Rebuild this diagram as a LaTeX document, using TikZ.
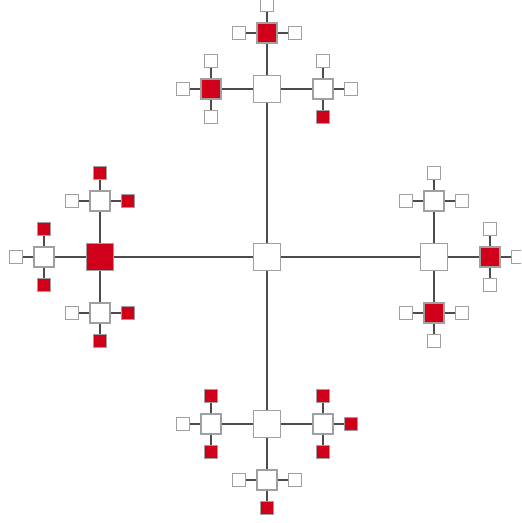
\documentclass[tikz,border=0pt]{standalone}
\definecolor{boxred}{RGB}{208,0,27}
\definecolor{boxedge}{RGB}{160,160,160}
\definecolor{wirecol}{RGB}{75,75,75}
\tikzset{
  box/.style = {draw=boxedge, line width=0.4mm, fill=white, inner sep=0pt},
  bigbox/.style = {box, minimum size=8.1mm},
  midbox/.style = {box, minimum size=6mm},
  tinybox/.style = {box, minimum size=3.9mm},
  wire/.style = {draw=wirecol, line width=0.35mm}
}
\begin{document}
\begin{tikzpicture}[x=0.03cm, y=-0.03cm]

	\clip (0,0) rectangle (521,523);

	% centre and the four arms
	\node[bigbox] (c) at (267,257) {};
	\node[bigbox] (t) at (267,89) {};
	\node[bigbox] (r) at (434,257) {};
	\node[bigbox] (b) at (267,424) {};
	\node[bigbox, fill=boxred] (l) at (100,257) {};
	\foreach \a in {t,r,b,l}
		\draw[wire] (c) -- (\a);

	% second level
	\foreach \n/\p/\x/\y/\f in {
		ta/t/-56/0/boxred, tb/t/0/-56/boxred, tc/t/56/0/white,
		la/l/0/-56/white, lb/l/-56/0/white, lc/l/0/56/white,
		ra/r/0/-56/white, rb/r/56/0/boxred, rc/r/0/56/boxred,
		ba/b/-56/0/white, bb/b/0/56/white, bc/b/56/0/white}
	{
		\node[midbox, fill=\f] (\n) at ([shift={(\x,\y)}]\p) {};
		\draw[wire] (\p) -- (\n);
	}

	% third level
	\foreach \n/\p/\x/\y/\f in {
		ta1/ta/0/-28/white, ta2/ta/-28/0/white, ta3/ta/0/28/white,
		tb1/tb/-28/0/white, tb2/tb/0/-28/white, tb3/tb/28/0/white,
		tc1/tc/0/-28/white, tc2/tc/28/0/white, tc3/tc/0/28/boxred,
		la1/la/-28/0/white, la2/la/0/-28/boxred, la3/la/28/0/boxred,
		lb1/lb/0/-28/boxred, lb2/lb/-28/0/white, lb3/lb/0/28/boxred,
		lc1/lc/-28/0/white, lc2/lc/0/28/boxred, lc3/lc/28/0/boxred,
		ra1/ra/-28/0/white, ra2/ra/0/-28/white, ra3/ra/28/0/white,
		rb1/rb/0/-28/white, rb2/rb/28/0/white, rb3/rb/0/28/white,
		rc1/rc/-28/0/white, rc2/rc/0/28/white, rc3/rc/28/0/white,
		ba1/ba/0/-28/boxred, ba2/ba/-28/0/white, ba3/ba/0/28/boxred,
		bb1/bb/-28/0/white, bb2/bb/0/28/boxred, bb3/bb/28/0/white,
		bc1/bc/0/-28/boxred, bc2/bc/28/0/boxred, bc3/bc/0/28/boxred}
	{
		\node[tinybox, fill=\f] (\n) at ([shift={(\x,\y)}]\p) {};
		\draw[wire] (\p) -- (\n);
	}

\end{tikzpicture}
\end{document}
